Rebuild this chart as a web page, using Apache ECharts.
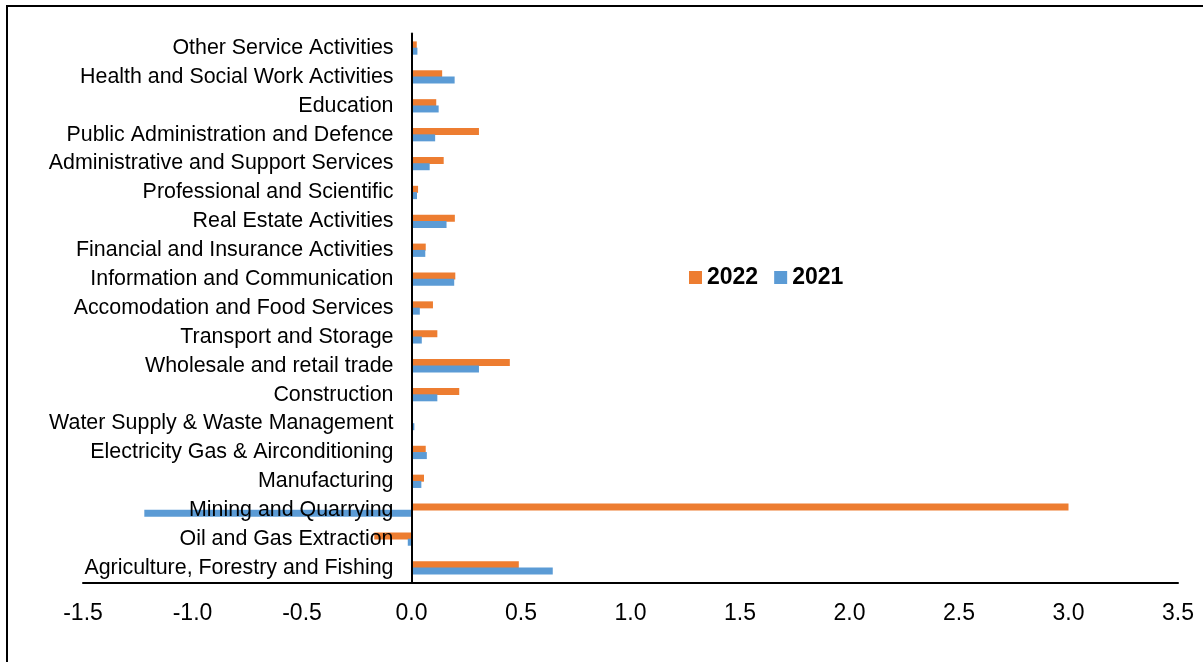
<!DOCTYPE html>
<html>
<head>
<meta charset="utf-8">
<script src="https://cdn.jsdelivr.net/npm/echarts@6/dist/echarts.min.js"></script>
<style>
html,body{margin:0;padding:0;background:#fff;}
#chart{width:1203px;height:662px;}
</style>
</head>
<body>
<div id="chart"></div>
<script>
const categories = [
  "Agriculture, Forestry and Fishing",
  "Oil and Gas Extraction",
  "Mining and Quarrying",
  "Manufacturing",
  "Electricity Gas & Airconditioning",
  "Water Supply & Waste Management",
  "Construction",
  "Wholesale and retail trade",
  "Transport and Storage",
  "Accomodation and Food Services",
  "Information and Communication",
  "Financial and Insurance Activities",
  "Real Estate Activities",
  "Professional and Scientific",
  "Administrative and Support Services",
  "Public Administration and Defence",
  "Education",
  "Health and Social Work Activities",
  "Other Service Activities"
];
const values2022 = [0.49, -0.17, 3.0, 0.057, 0.065, 0.003, 0.218, 0.449, 0.118, 0.098, 0.2, 0.065, 0.198, 0.03, 0.147, 0.308, 0.113, 0.14, 0.024];
const values2021 = [0.645, -0.017, -1.22, 0.045, 0.07, 0.013, 0.118, 0.308, 0.047, 0.038, 0.195, 0.063, 0.16, 0.025, 0.083, 0.108, 0.124, 0.197, 0.027];
const xTicks = { min: -1.5, max: 3.5, interval: 0.5 };

const gridLeft = 83, gridRight = 25;
const plotWidth = 1203 - gridLeft - gridRight;
const zeroOffset = plotWidth * (0 - xTicks.min) / (xTicks.max - xTicks.min);

const chart = echarts.init(document.getElementById('chart'));
chart.setOption({
  animation: false,
  backgroundColor: '#ffffff',
  textStyle: { fontFamily: 'Liberation Sans, Arial, sans-serif' },
  graphic: [{
    type: 'rect',
    shape: { x: 7, y: 6, width: 1400, height: 1000 },
    style: { fill: 'none', stroke: '#000', lineWidth: 2 },
    silent: true
  }],
  grid: { left: gridLeft, right: gridRight, top: 33.6, bottom: 79.6, containLabel: false, outerBoundsMode: 'none' },
  legend: {
    data: ['2022', '2021'],
    left: 689, top: 266, padding: 0,
    itemWidth: 13, itemHeight: 13, itemGap: 16,
    icon: 'rect',
    textStyle: { fontSize: 23, fontWeight: 'bold', color: '#000', fontFamily: 'Liberation Sans, Arial, sans-serif' }
  },
  xAxis: {
    type: 'value',
    min: xTicks.min, max: xTicks.max, interval: xTicks.interval,
    axisLine: { show: true, onZero: false, lineStyle: { color: '#000', width: 2 } },
    axisTick: { show: false },
    splitLine: { show: false },
    axisLabel: {
      color: '#000', fontSize: 23, margin: 20,
      formatter: v => v.toFixed(1)
    }
  },
  yAxis: {
    type: 'category',
    data: categories,
    position: 'left',
    offset: -zeroOffset,
    z: 10,
    axisLine: { show: true, onZero: false, lineStyle: { color: '#000', width: 2 } },
    axisTick: { show: false },
    splitLine: { show: false },
    axisLabel: { color: '#000', fontSize: 21.4, margin: 18, padding: [4, 0, 0, 0] }
  },
  series: [
    {
      name: '2022', type: 'bar', data: values2022,
      barWidth: 7, barGap: '-10%',
      itemStyle: { color: '#ED7D31' }
    },
    {
      name: '2021', type: 'bar', data: values2021,
      barWidth: 7, barGap: '-10%',
      itemStyle: { color: '#5B9BD5' }
    }
  ]
});
</script>
</body>
</html>
